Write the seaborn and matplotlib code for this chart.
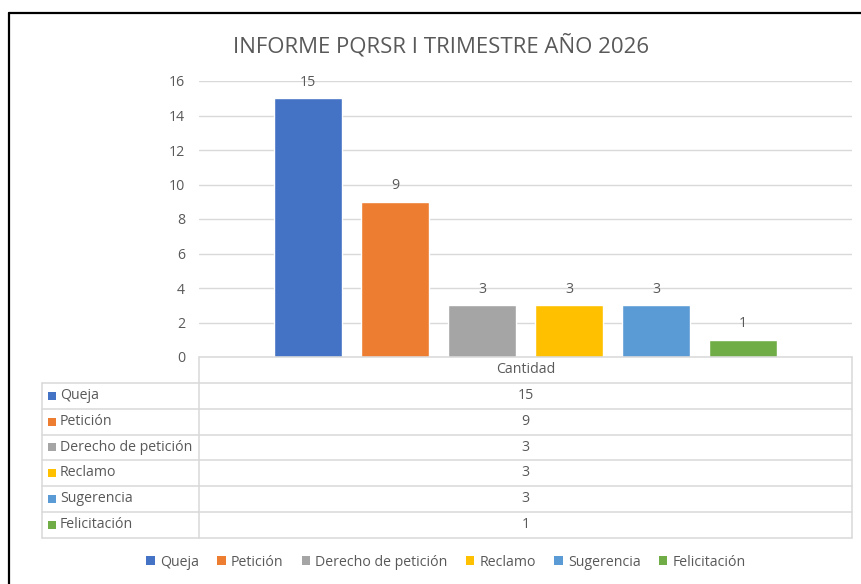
import matplotlib
matplotlib.use("Agg")
import matplotlib.pyplot as plt
import seaborn as sns
import pandas as pd
from matplotlib.lines import Line2D
from matplotlib.patches import Rectangle

# ---- data ----
categories = ["Queja", "Petición", "Derecho de petición", "Reclamo", "Sugerencia", "Felicitación"]
values = [15, 9, 3, 3, 3, 1]
colors = ["#4472C4", "#ED7D31", "#A5A5A5", "#FFC000", "#5B9BD5", "#70AD47"]
series_label = "Cantidad"
title = "INFORME PQRSR I TRIMESTRE AÑO 2026"
yticks = [0, 2, 4, 6, 8, 10, 12, 14, 16]

sns.set_theme(style="white")
plt.rcParams['font.family'] = ['Open Sans', 'DejaVu Sans']

TXT = "#595959"
GRID = "#D9D9D9"
FS = 10.2
W, H = 862, 584
fig = plt.figure(figsize=(W / 100, H / 100), dpi=100)
fig.patch.set_facecolor("white")


def fx(px):
    return px / W


def fy(py):
    return 1 - py / H


ax = fig.add_axes([fx(199), fy(357), (852 - 199) / W, (357 - 81) / H])
df = pd.DataFrame({"Tipo": categories, series_label: values})
sns.barplot(data=df, x="Tipo", y=series_label, hue="Tipo", order=categories,
            hue_order=categories, palette=colors, width=68 / 87, dodge=False,
            legend=False, saturation=1, ax=ax)
ax.set_xlim(-1.253, 6.253)
ax.set_ylim(0, 16)
ax.set_yticks(yticks)
ax.set_yticklabels([str(t) for t in yticks])
ax.tick_params(axis="y", length=0, pad=10, labelsize=FS, labelcolor=TXT)
ax.set_xticks([])
ax.set_xlabel("")
ax.set_ylabel("")
ax.grid(axis="y", color=GRID, linewidth=1.0)
ax.set_axisbelow(True)
for s in ax.spines.values():
    s.set_visible(False)
for c in ax.containers:
    ax.bar_label(c, padding=6, fontsize=FS, color=TXT)

fig.text(fx(441), fy(46), title, ha="center", va="center", fontsize=16, color=TXT)

# ---- data table ----
rows_y = [357, 382.5, 408.5, 434.5, 460, 485.5, 511.5, 537.5]
lw = 1.1


def hline(y, x0, x1):
    fig.add_artist(Line2D([fx(x0), fx(x1)], [fy(y), fy(y)], color=GRID, lw=lw, transform=fig.transFigure))


def vline(x, y0, y1):
    fig.add_artist(Line2D([fx(x), fx(x)], [fy(y0), fy(y1)], color=GRID, lw=lw, transform=fig.transFigure))


hline(rows_y[0], 199, 852)
for y in rows_y[1:]:
    hline(y, 42, 852)
vline(42, rows_y[1], rows_y[-1])
vline(199, rows_y[0], rows_y[-1])
vline(852, rows_y[0], rows_y[-1])

fig.text(fx(525.5), fy((rows_y[0] + rows_y[1]) / 2), series_label, ha="center", va="center",
         fontsize=FS, color=TXT)
for i, (cat, val, col) in enumerate(zip(categories, values, colors)):
    yc = (rows_y[i + 1] + rows_y[i + 2]) / 2
    fig.add_artist(Rectangle((fx(48), fy(yc + 4)), 8 / W, 8 / H, facecolor=col, edgecolor="none",
                             transform=fig.transFigure))
    fig.text(fx(60), fy(yc), cat, ha="left", va="center", fontsize=FS, color=TXT)
    fig.text(fx(525.5), fy(yc), str(val), ha="center", va="center", fontsize=FS, color=TXT)

# ---- legend ----
handles = [Rectangle((0, 0), 1, 1, facecolor=c, edgecolor="none") for c in colors]
fig.legend(handles, categories, ncol=6, loc="center", bbox_to_anchor=(fx(446), fy(562)),
           frameon=False, fontsize=FS, labelcolor=TXT, handlelength=0.6, handleheight=0.6,
           handletextpad=0.35, columnspacing=1.3)

# ---- border ----
fig.add_artist(Line2D([fx(9), fx(862)], [fy(13), fy(13)], color="black", lw=1.6, transform=fig.transFigure))
fig.add_artist(Line2D([fx(9), fx(9)], [fy(13), fy(584)], color="black", lw=1.6, transform=fig.transFigure))

fig.savefig("out.png", dpi=100)
